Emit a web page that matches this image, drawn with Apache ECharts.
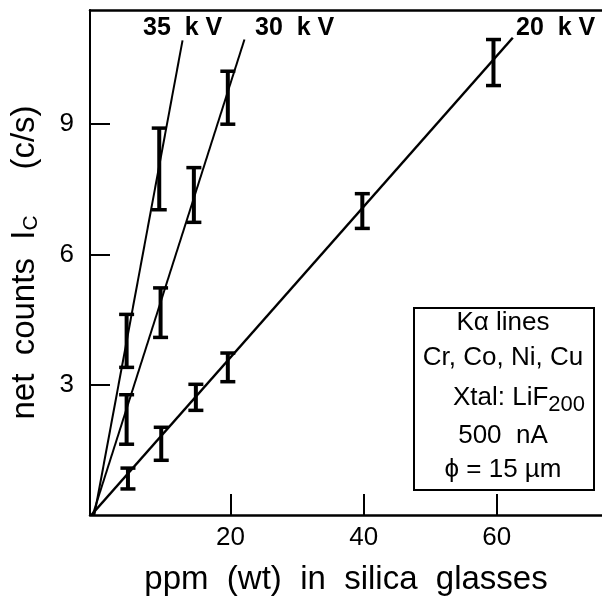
<!DOCTYPE html>
<html>
<head>
<meta charset="utf-8">
<script src="https://cdn.jsdelivr.net/npm/echarts@6/dist/echarts.min.js"></script>
<style>
  html, body { margin: 0; padding: 0; background: #fff; }
  #chart { width: 602px; height: 601px; }
</style>
</head>
<body>
<div id="chart"></div>
<script>
// measured points: [ppm, counts, error half-height]
const pts20kV = [[4.6, 0.84, 0.24], [9.6, 1.64, 0.38], [14.8, 2.71, 0.30], [19.6, 3.40, 0.33], [39.8, 7.0, 0.40], [59.5, 10.42, 0.53]]
const pts30kV = [[4.4, 2.2, 0.57], [9.5, 4.66, 0.57], [14.5, 7.37, 0.63], [19.6, 9.61, 0.61]]
const pts35kV = [[4.4, 4.01, 0.61], [9.3, 7.97, 0.94]]

// fit lines, start and end
const fit20kV = [[-0.9, 0], [62.4, 10.99]]
const fit30kV = [[-0.7, 0], [22.1, 10.95]]
const fit35kV = [[-0.45, 0], [12.8, 10.93]]

const xTicks = [20, 40, 60]
const yTicks = [3, 6, 9]

const infoLines = ['K\u03b1 lines', 'Cr, Co, Ni, Cu', 'Xtal: LiF{s|200}', '500  nA', '\u03d5 = 15 \u00b5m']

const FONT = 'Liberation Sans'
const chart = echarts.init(document.getElementById('chart'))

function errBar(params, api) {
  const x = api.value(0), y = api.value(1), e = api.value(2)
  const top = api.coord([x, y + e])
  const bot = api.coord([x, y - e])
  const hw = 7.5
  const st = { stroke: '#000', lineWidth: 3.5 }
  return {
    type: 'group',
    children: [
      { type: 'line', shape: { x1: top[0], y1: top[1], x2: bot[0], y2: bot[1] }, style: { stroke: '#000', lineWidth: 4 } },
      { type: 'line', shape: { x1: top[0] - hw, y1: top[1], x2: top[0] + hw, y2: top[1] }, style: st },
      { type: 'line', shape: { x1: bot[0] - hw, y1: bot[1], x2: bot[0] + hw, y2: bot[1] }, style: st }
    ]
  }
}

function fitLine(data, w) {
  return { type: 'line', data: data, symbol: 'none', silent: true, lineStyle: { color: '#000', width: w }, z: 3 }
}

function bars(data) {
  return { type: 'custom', data: data, renderItem: errBar, z: 4, silent: true }
}

const infoTop = [310, 345, 380, 423, 457]

chart.setOption({
  animation: false,
  grid: { left: 90, right: 0, top: 10, bottom: 77 },
  xAxis: [{
    type: 'value', min: -1.1, max: 75.8,
    splitLine: { show: false },
    axisLine: { onZero: false, lineStyle: { color: '#000', width: 2.5 } },
    axisTick: { inside: true, length: 21, customValues: xTicks, lineStyle: { color: '#000', width: 2 } },
    axisLabel: { customValues: xTicks, color: '#000', fontSize: 26, fontFamily: FONT, margin: 10 },
    name: 'ppm  (wt)  in  silica  glasses', nameLocation: 'middle', nameGap: 48,
    nameTextStyle: { color: '#000', fontSize: 33, fontFamily: FONT }
  }, {
    type: 'value', position: 'top', min: -1.1, max: 75.8,
    splitLine: { show: false }, axisTick: { show: false }, axisLabel: { show: false },
    axisLine: { onZero: false, lineStyle: { color: '#000', width: 2.5 } }
  }],
  yAxis: {
    type: 'value', min: 0, max: 11.63,
    splitLine: { show: false },
    axisLine: { onZero: false, lineStyle: { color: '#000', width: 2 } },
    axisTick: { inside: true, length: 20, customValues: yTicks, lineStyle: { color: '#000', width: 2 } },
    axisLabel: { customValues: yTicks, color: '#000', fontSize: 26, fontFamily: FONT, margin: 16 },
    name: 'net  counts  I{s|C}     (c/s)', nameLocation: 'middle', nameGap: 48, nameRotate: 90,
    nameTextStyle: {
      color: '#000', fontSize: 33, fontFamily: FONT,
      rich: { s: { fontSize: 21, fontFamily: FONT, color: '#000', verticalAlign: 'bottom', padding: [14, 0, 0, 0] } }
    }
  },
  series: [
    fitLine(fit20kV, 2.5), fitLine(fit30kV, 2), fitLine(fit35kV, 2),
    bars(pts20kV), bars(pts30kV), bars(pts35kV)
  ],
  graphic: [
    { type: 'text', left: 143, top: 16, style: { text: '35  k V', font: 'bold 25px "Liberation Sans"', fill: '#000' } },
    { type: 'text', left: 255, top: 16, style: { text: '30  k V', font: 'bold 25px "Liberation Sans"', fill: '#000' } },
    { type: 'text', left: 516, top: 16, style: { text: '20  k V', font: 'bold 25px "Liberation Sans"', fill: '#000' } },
    { type: 'rect', left: 413, top: 307, shape: { width: 180, height: 182 }, style: { fill: '#fff', stroke: '#000', lineWidth: 2 }, z: 10 },
    ...infoLines.map((t, i) => ({
      type: 'text', z: 11, x: i === 2 ? 519 : 503, y: infoTop[i],
      style: {
        text: t, fill: '#000', font: '26px "Liberation Sans"', align: 'center',
        rich: { s: { fontSize: 22, fontFamily: FONT, fill: '#000', padding: [14, 0, 0, 0] } }
      }
    }))
  ]
})
</script>
</body>
</html>
